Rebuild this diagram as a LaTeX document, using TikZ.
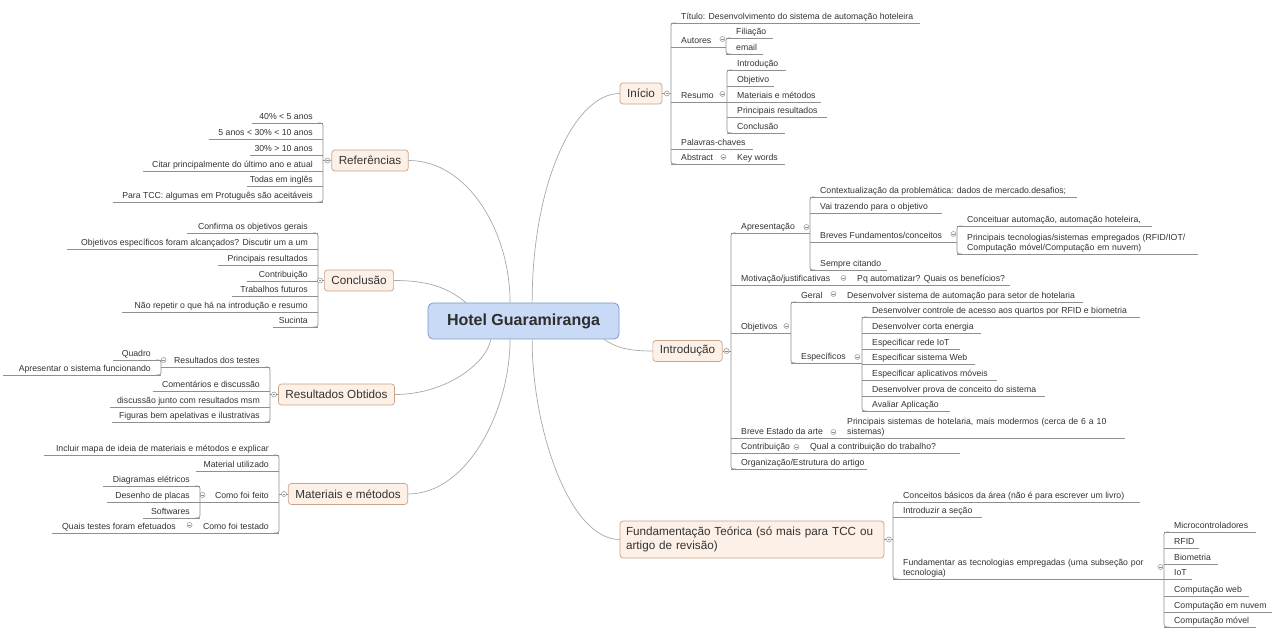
\documentclass[tikz,border=0pt]{standalone}
\usepackage{fontspec}
\setmainfont{Liberation Sans}
\usetikzlibrary{calc}
\definecolor{ulc}{HTML}{8F8F8F}
\definecolor{cur}{HTML}{A8A8A8}
\definecolor{txt}{HTML}{333333}
\definecolor{bfill}{HTML}{FDF0E6}
\definecolor{bdraw}{HTML}{C7A48C}
\definecolor{cfill}{HTML}{C8DAF6}
\definecolor{cdraw}{HTML}{7D98C8}
\newcommand\leaffont{\fontsize{8.7}{10.6}\selectfont}
\newlength\lfw
\newsavebox\lfbox
\tikzset{
  ul/.style={draw=ulc, line width=0.7pt},
  conn/.style={draw=cur, line width=0.7pt},
  leafbase/.style={inner xsep=0pt, inner ysep=1pt, text=txt, font=\leaffont, text height=6.4pt, text depth=2pt},
  leafR/.style={leafbase, anchor=south west},
  leafL/.style={leafbase, anchor=south east},
  leafM/.style={inner xsep=0pt, inner ysep=1pt, text=txt, font=\leaffont, align=left, anchor=south west},
  tog/.style={circle, draw=ulc, fill=white, line width=0.5pt, minimum size=5pt, inner sep=0pt,
    path picture={\draw[ulc, line width=0.5pt] ($(path picture bounding box.west)+(1.2,0)$) -- ($(path picture bounding box.east)+(-1.2,0)$);}},
  branch/.style={draw=bdraw, fill=bfill, rounded corners=3pt, line width=0.7pt, text=txt,
    font=\fontsize{11.7}{14.5}\selectfont, inner xsep=7pt, minimum height=21pt},
  central/.style={draw=cdraw, fill=cfill, rounded corners=5pt, line width=0.8pt, text=txt!90!black,
    font=\fontsize{16}{19}\selectfont\bfseries, minimum width=191pt, minimum height=36pt}
}
% right-side leaf: name, bracket x, underline y, end x, text
\newcommand\rleaf[5]{%
  \sbox\lfbox{\leaffont #5}\setlength\lfw{\wd\lfbox}%
  \pgfmathsetlengthmacro\lfW{max(#4-#2,\lfw+16pt)}%
  \node[leafR] (#1) at (#2,#3) {\makebox[\lfW][l]{\hspace*{10pt}#5}};
  \draw[ul] (#1.south west) -- (#1.south east);
  \coordinate (#1s) at (#1.south west);
}
% left-side leaf: name, bracket x, underline y, left end x, text
\newcommand\lleaf[5]{%
  \sbox\lfbox{\leaffont #5}\setlength\lfw{\wd\lfbox}%
  \pgfmathsetlengthmacro\lfW{max(#2-#4,\lfw+16pt)}%
  \node[leafL] (#1) at (#2,#3) {\makebox[\lfW][r]{#5\hspace*{10pt}}};
  \draw[ul] (#1.south west) -- (#1.south east);
  \coordinate (#1s) at (#1.south east);
}
% right-side multi-line leaf
\newcommand\rleafm[5]{%
  \pgfmathsetlengthmacro\lfW{#4-#2-10}%
  \node[leafM, text width=\lfW] (#1) at (#2+10,#3) {#5};
  \coordinate (#1s) at ($(#1.south west)+(-10,0)$);
  \draw[ul] (#1s) -- (#1.south east);
}
\newcommand\brR[2]{\draw[ul, rounded corners=2.5pt] ($(#1s)+(5,0)$) -- (#1s) -- (#2s) -- ($(#2s)+(5,0)$);}
\newcommand\brL[2]{\draw[ul, rounded corners=2.5pt] ($(#1s)+(-5,0)$) -- (#1s) -- (#2s) -- ($(#2s)+(-5,0)$);}

\begin{document}
\begin{tikzpicture}[x=1pt,y=-1pt]
\fill[white] (0,0) rectangle (1280,636);
\useasboundingbox (0,0) rectangle (1280,636);

% central
\node[central] (C) at (523.5,321) {Hotel Guaramiranga};

% ---------- Início ----------
\node[branch] (Ini) at (641,93.5) {Início};
\rleaf{Tit}{671}{23}{920}{Título: Desenvolvimento do sistema de automação hoteleira}
\rleaf{Aut}{671}{47}{726}{Autores}
\rleaf{Fil}{726}{38}{773}{Filiação}
\rleaf{Ema}{726}{54}{763}{email}
\rleaf{Res}{671}{102}{727}{Resumo}
\rleaf{RIn}{727}{70}{786}{Introdução}
\rleaf{ROb}{727}{86}{774}{Objetivo}
\rleaf{RMa}{727}{102}{821}{Materiais e métodos}
\rleaf{RPr}{727}{117}{827}{Principais resultados}
\rleaf{RCo}{727}{133}{785}{Conclusão}
\rleaf{Pal}{671}{149}{753}{Palavras-chaves}
\rleaf{Abs}{671}{164}{727}{Abstract}
\rleaf{Key}{727}{164}{785}{Key words}
\brR{Tit}{Abs}
\brR{Fil}{Ema}
\brR{RIn}{RCo}
\draw[ul] (Ini.east) -- (Ini.east -| Tits);
\node[tog] (gIni) at ($(Ini.east)+(4.5,0)$) {};
\node[tog] (gAut) at ($(Aut.south east)+(-4,-8)$) {};
\node[tog] (gRes) at ($(Res.south east)+(-5,-8)$) {};
\node[tog] (gAbs) at ($(Abs.south east)+(-4,-7)$) {};

% ---------- Introdução ----------
\node[branch] (Intro) at (687.5,351) {Introdução};
\rleaf{Apr}{731}{233}{810}{Apresentação}
\rleaf{Ctx}{810}{197}{1077}{Contextualização da problemática: dados de mercado.desafios;}
\rleaf{Vai}{810}{213}{942}{Vai trazendo para o objetivo}
\rleaf{Bre}{810}{242}{957}{Breves Fundamentos/conceitos}
\rleaf{Cnc}{957}{226}{1152}{Conceituar automação, automação hoteleira,}
\rleafm{Ptc}{957}{254}{1198}{Principais tecnologias/sistemas empregados (RFID/IOT/\\Computação móvel/Computação em nuvem)}
\rleaf{Sem}{810}{270}{887}{Sempre citando}
\rleaf{Mot}{731}{285}{847}{Motivação/justificativas}
\rleaf{Pq}{847}{285}{1010}{Pq automatizar? Quais os benefícios?}
\rleaf{Obj}{731}{333}{791}{Objetivos}
\rleaf{Ger}{791}{302}{837}{Geral}
\rleaf{Dss}{837}{302}{1083}{Desenvolver sistema de automação para setor de hotelaria}
\rleaf{Esp}{791}{363}{862}{Específicos}
\rleaf{EA}{862}{317}{1140}{Desenvolver controle de acesso aos quartos por RFID e biometria}
\rleaf{EB}{862}{333}{981}{Desenvolver corta energia}
\rleaf{EC}{862}{349}{960}{Especificar rede IoT}
\rleaf{ED}{862}{364}{975}{Especificar sistema Web}
\rleaf{EE}{862}{380}{997}{Especificar aplicativos móveis}
\rleaf{EF}{862}{396}{1045}{Desenvolver prova de conceito do sistema}
\rleaf{EG}{862}{411}{950}{Avaliar Aplicação}
\rleaf{Bea}{731}{438}{837}{Breve Estado da arte}
\rleafm{Psh}{837}{438}{1125}{Principais sistemas de hotelaria, mais modermos (cerca de 6 a 10\\sistemas)}
\rleaf{Con}{731}{453}{800}{Contribuição}
\rleaf{Qua}{800}{453}{960}{Qual a contribuição do trabalho?}
\rleaf{Org}{731}{469}{867}{Organização/Estrutura do artigo}
\brR{Apr}{Org}
\brR{Ctx}{Sem}
\brR{Cnc}{Ptc}
\brR{Ger}{Esp}
\brR{EA}{EG}
\draw[ul] (Intro.east) -- (Intro.east -| Aprs);
\node[tog] (gIntro) at ($(Intro.east)+(4,0)$) {};
\node[tog] (gApr) at ($(Apr.south east)+(-4,-6)$) {};
\node[tog] (gBre) at ($(Bre.south east)+(-4,-8)$) {};
\node[tog] (gMot) at ($(Mot.south east)+(-4,-7)$) {};
\node[tog] (gObj) at ($(Obj.south east)+(-5,-7)$) {};
\node[tog] (gGer) at ($(Ger.south east)+(-4,-8)$) {};
\node[tog] (gEsp) at ($(Esp.south east)+(-5,-6)$) {};
\node[tog] (gBea) at ($(Bea.south east)+(-4,-6)$) {};
\node[tog] (gCon) at ($(Con.south east)+(-4,-6)$) {};

% ---------- Fundamentação ----------
\node[branch, text width=252pt, align=left, inner xsep=6pt, minimum height=37pt] (Fund) at (752,539.5) {Fundamentação Teórica (só mais para TCC ou\\artigo de revisão)};
\rleaf{Cba}{893}{502}{1140}{Conceitos básicos da área (não é para escrever um livro)}
\rleaf{Isc}{893}{517}{982}{Introduzir a seção}
\rleafm{Ftc}{893}{579}{1164}{Fundamentar as tecnologias empregadas (uma subseção por\\tecnologia)}
\rleaf{TA}{1164}{532}{1256}{Microcontroladores}
\rleaf{TB}{1164}{548}{1199}{RFID}
\rleaf{TC}{1164}{564}{1218}{Biometria}
\rleaf{TD}{1164}{579}{1192}{IoT}
\rleaf{TE}{1164}{596}{1249}{Computação web}
\rleaf{TF}{1164}{612}{1272}{Computação em nuvem}
\rleaf{TG}{1164}{627}{1256}{Computação móvel}
\brR{Cba}{Ftc}
\brR{TA}{TG}
\draw[ul] (Fund.east) -- (Fund.east -| Cbas);
\node[tog] (gFund) at ($(Fund.east)+(4.5,0)$) {};
\node[tog] (gFtc) at ($(Ftc.south east)+(-4,-12)$) {};

% ---------- Referências ----------
\node[branch] (Ref) at (370,160.5) {Referências};
\lleaf{FA}{323}{123}{252}{40\% < 5 anos}
\lleaf{FB}{323}{139}{209}{5 anos < 30\% < 10 anos}
\lleaf{FC}{323}{155}{250}{30\% > 10 anos}
\lleaf{FD}{323}{171}{143}{Citar principalmente do último ano e atual}
\lleaf{FE}{323}{186}{247}{Todas em inglês}
\lleaf{FF}{323}{202}{113}{Para TCC: algumas em Protuguês são aceitáveis}
\brL{FA}{FF}
\draw[ul] (Ref.west) -- (Ref.west -| FAs);
\node[tog] (gRef) at ($(Ref.west)+(-4,0)$) {};

% ---------- Conclusão ----------
\node[branch] (Conc) at (359,280.5) {Conclusão};
\lleaf{KA}{318}{233}{187}{Confirma os objetivos gerais}
\lleaf{KB}{318}{249}{67}{Objetivos específicos foram alcançados? Discutir um a um}
\lleaf{KC}{318}{265}{218}{Principais resultados}
\lleaf{KD}{318}{281}{247}{Contribuição}
\lleaf{KE}{318}{296}{232}{Trabalhos futuros}
\lleaf{KF}{318}{312}{122}{Não repetir o que há na introdução e resumo}
\lleaf{KG}{318}{327}{273}{Sucinta}
\brL{KA}{KG}
\draw[ul] (Conc.west) -- (Conc.west -| KAs);
\node[tog] (gConc) at ($(Conc.west)+(-4,0)$) {};

% ---------- Resultados Obtidos ----------
\node[branch] (ResO) at (336.5,394.5) {Resultados Obtidos};
\lleaf{OA}{270}{367}{161}{Resultados dos testes}
\lleaf{OAa}{161}{360}{113}{Quadro}
\lleaf{OAb}{161}{375}{3}{Apresentar o sistema funcionando}
\lleaf{OB}{270}{391}{153}{Comentários e discussão}
\lleaf{OC}{270}{407}{110}{discussão junto com resultados msm}
\lleaf{OD}{270}{422}{112}{Figuras bem apelativas e ilustrativas}
\brL{OA}{OD}
\brL{OAa}{OAb}
\draw[ul] (ResO.west) -- (ResO.west -| OAs);
\node[tog] (gResO) at ($(ResO.west)+(-4,0)$) {};
\node[tog] (gOA) at ($(OA.south west)+(3,-7)$) {};

% ---------- Materiais e métodos ----------
\node[branch] (Mat) at (348,494) {Materiais e métodos};
\lleaf{MA}{279}{455}{44}{Incluir mapa de ideia de materiais e métodos e explicar}
\lleaf{MB}{279}{471}{196}{Material utilizado}
\lleaf{MC}{279}{502}{200}{Como foi feito}
\lleaf{MCa}{200}{486}{103}{Diagramas elétricos}
\lleaf{MCb}{200}{502}{107}{Desenho de placas}
\lleaf{MCc}{200}{518}{143}{Softwares}
\lleaf{MD}{279}{533}{186}{Como foi testado}
\lleaf{MDa}{186}{533}{52}{Quais testes foram efetuados}
\brL{MA}{MD}
\brL{MCa}{MCc}
\draw[ul] (Mat.west) -- (Mat.west -| MAs);
\node[tog] (gMat) at ($(Mat.west)+(-4,0)$) {};
\node[tog] (gMC) at ($(MC.south west)+(3,-7)$) {};
\node[tog] (gMD) at ($(MD.south west)+(4,-8)$) {};

% ---------- curves from central topic ----------
\draw[conn] ($(C.north west)!0.545!(C.north east)$) .. controls +(0,-120) and +(-45,0) .. (Ini.west);
\draw[conn] (Ref.east) .. controls +(60,0) and +(0,-70) .. ($(C.north west)!0.43!(C.north east)$);
\draw[conn] (Conc.east) .. controls +(40,0) and +(-15,-12) .. ($(C.north west)!0.2!(C.north east)$);
\draw[conn] (ResO.east) .. controls +(50,0) and +(-5,25) .. ($(C.south west)!0.33!(C.south east)$);
\draw[conn] (Mat.east) .. controls +(60,0) and +(0,70) .. ($(C.south west)!0.43!(C.south east)$);
\draw[conn] (Fund.west) .. controls +(-50,0) and +(0,90) .. ($(C.south west)!0.545!(C.south east)$);
\draw[conn] ($(C.south west)!0.92!(C.south east)$) .. controls +(12,8) and +(-25,0) .. (Intro.west);
\end{tikzpicture}
\end{document}
